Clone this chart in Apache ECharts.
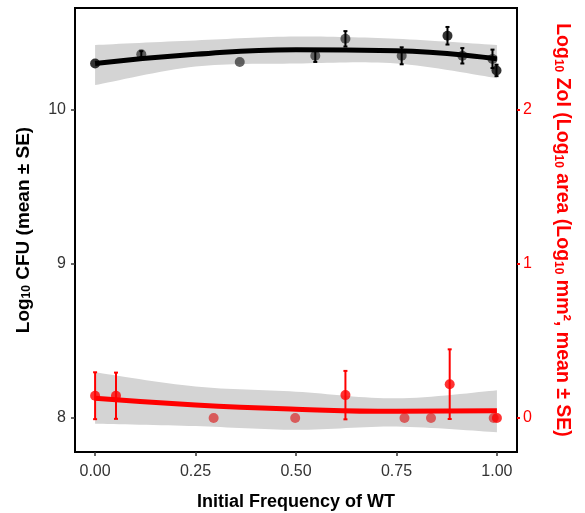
<!DOCTYPE html>
<html>
<head>
<meta charset="utf-8">
<script src="https://cdn.jsdelivr.net/npm/echarts@6/dist/echarts.min.js"></script>
<style>html,body{margin:0;padding:0;background:#fff;}#c{width:585px;height:513px;}</style>
</head>
<body>
<div id="c"></div>
<script>
// ---- tick labels ----
const xTicks = [0, 0.25, 0.5, 0.75, 1];
const cfuTicks = [8, 9, 10];
const zoiTicks = [0, 1, 2];

// ---- CFU (left axis) ----
const cfuX    = [0, 0.115, 0.36, 0.548, 0.623, 0.763, 0.877, 0.914, 0.989, 0.999];
const cfuMean = [10.30, 10.36, 10.31, 10.35, 10.46, 10.35, 10.48, 10.35, 10.33, 10.255];
const cfuSE   = [0, 0.02, 0, 0.04, 0.05, 0.055, 0.057, 0.05, 0.06, 0.037];

// ---- ZoI (right axis) ----
const zoiX    = [0, 0.052, 0.295, 0.498, 0.623, 0.77, 0.836, 0.8825, 0.992, 1.0];
const zoiMean = [0.145, 0.145, 0, 0, 0.149, 0, 0, 0.22, 0, 0];
const zoiSE   = [0.152, 0.15, 0, 0, 0.157, 0, 0, 0.226, 0, 0];

// ---- smooth fits with confidence band ----
const fitX     = [0, 0.25, 0.5, 0.75, 1.0];
const cfuFit   = [10.30, 10.36, 10.39, 10.383, 10.33];
const cfuUpper = [10.42, 10.45, 10.475, 10.46, 10.42];
const cfuLower = [10.16, 10.28, 10.30, 10.30, 10.205];
const zoiFit   = [0.128, 0.085, 0.058, 0.044, 0.047];
const zoiUpper = [0.297, 0.205, 0.171, 0.128, 0.18];
const zoiLower = [-0.036, -0.052, -0.076, -0.055, -0.092];

const FONT = '"Liberation Sans", Arial, sans-serif';
const chart = echarts.init(document.getElementById('c'), null, {renderer: 'canvas'});

function pairs(xs, ys) { return xs.map((x, i) => [x, ys[i]]); }

// Catmull-Rom through pixel points (rendering only)
function splinePts(P) {
  const out = [];
  const n = P.length;
  for (let i = 0; i < n - 1; i++) {
    const p0 = P[Math.max(i - 1, 0)], p1 = P[i], p2 = P[i + 1], p3 = P[Math.min(i + 2, n - 1)];
    const steps = 16;
    for (let s = 0; s < steps; s++) {
      const t = s / steps, t2 = t * t, t3 = t2 * t;
      const f = (a, b, c, d) => 0.5 * ((2 * b) + (-a + c) * t + (2 * a - 5 * b + 4 * c - d) * t2 + (-a + 3 * b - 3 * c + d) * t3);
      out.push([f(p0[0], p1[0], p2[0], p3[0]), f(p0[1], p1[1], p2[1], p3[1])]);
    }
  }
  out.push(P[n - 1]);
  return out;
}

function bandSeries(xs, up, lo, yIdx) {
  return {
    type: 'custom', yAxisIndex: yIdx, z: 1, silent: true,
    data: [[xs[0], up[0]]],
    renderItem: function (params, api) {
      const U = splinePts(xs.map((x, i) => api.coord([x, up[i]])));
      const L = splinePts(xs.map((x, i) => api.coord([x, lo[i]]))).reverse();
      return {type: 'polygon', shape: {points: U.concat(L)}, style: {fill: '#d4d4d4'}};
    }
  };
}

function errorBars(xs, m, se, yIdx, color) {
  return {
    type: 'custom', yAxisIndex: yIdx, z: 5,
    data: xs.map((x, i) => [x, m[i] - se[i], m[i] + se[i]]),
    renderItem: function (params, api) {
      const lo = api.coord([api.value(0), api.value(1)]);
      const hi = api.coord([api.value(0), api.value(2)]);
      if (Math.abs(lo[1] - hi[1]) < 1) return null;
      const st = {stroke: color, lineWidth: 2};
      const w = 2;
      return {type: 'group', children: [
        {type: 'line', shape: {x1: lo[0], y1: lo[1], x2: hi[0], y2: hi[1]}, style: st},
        {type: 'line', shape: {x1: lo[0] - w, y1: lo[1], x2: lo[0] + w, y2: lo[1]}, style: st},
        {type: 'line', shape: {x1: hi[0] - w, y1: hi[1], x2: hi[0] + w, y2: hi[1]}, style: st}
      ]};
    }
  };
}

const strongCfu = new Set([0, 6, 9]);
const strongZoi = new Set([0, 1, 4, 7, 9]);

const subStyle = {fontSize: 12, fontWeight: 'bold', lineHeight: 12, padding: [9, 0, 0, 0], verticalAlign: 'bottom', fontFamily: FONT};

const option = {
  animation: false,
  backgroundColor: '#fff',
  grid: {left: 75, top: 8, width: 442, height: 444, show: true, borderColor: '#000', borderWidth: 2, backgroundColor: 'transparent', containLabel: false, outerBoundsMode: 'none'},
  xAxis: {
    type: 'value', min: -0.05, max: 1.05,
    name: 'Initial Frequency of WT', nameLocation: 'middle', nameGap: 41,
    nameTextStyle: {fontSize: 18, fontWeight: 'bold', color: '#000', fontFamily: FONT},
    axisLine: {show: false, onZero: false},
    axisTick: {show: true, customValues: xTicks, length: 4, lineStyle: {color: '#333', width: 1.5}},
    axisLabel: {customValues: xTicks, formatter: v => v.toFixed(2), fontSize: 16, color: '#333', margin: 12, fontFamily: FONT},
    splitLine: {show: false}
  },
  yAxis: [
    {
      type: 'value', position: 'left', min: 7.78, max: 10.66,
      name: '{b|Log}{s|10}{b| CFU (mean ± SE)}', nameLocation: 'middle', nameGap: 42, nameRotate: 90,
      nameTextStyle: {color: '#000', fontFamily: FONT, rich: {b: {fontSize: 19, fontWeight: 'bold', color: '#000', fontFamily: FONT, verticalAlign: 'middle'}, s: Object.assign({color: '#000'}, subStyle)}},
      axisLine: {show: false, onZero: false},
      axisTick: {show: true, customValues: cfuTicks, length: 4, lineStyle: {color: '#333', width: 1.5}},
      axisLabel: {customValues: cfuTicks, fontSize: 16, color: '#333', margin: 9, fontFamily: FONT},
      splitLine: {show: false}
    },
    {
      type: 'value', position: 'right', min: -0.22, max: 2.66,
      name: '{b|Log}{s|10}{b| ZoI (Log}{s|10}{b| area (Log}{s|10}{b| mm², mean ± SE)}', nameLocation: 'middle', nameGap: 35, nameRotate: -90,
      nameTextStyle: {color: '#ff0000', fontFamily: FONT, rich: {b: {fontSize: 19.5, fontWeight: 'bold', color: '#ff0000', fontFamily: FONT, verticalAlign: 'middle'}, s: Object.assign({color: '#ff0000'}, subStyle)}},
      axisLine: {show: false, onZero: false},
      axisTick: {show: true, customValues: zoiTicks, length: 3, lineStyle: {color: '#ff0000', width: 2}},
      axisLabel: {customValues: zoiTicks, fontSize: 16, color: '#ff0000', margin: 6, fontFamily: FONT},
      splitLine: {show: false}
    }
  ],
  series: [
    bandSeries(fitX, cfuUpper, cfuLower, 0),
    bandSeries(fitX, zoiUpper, zoiLower, 1),
    {type: 'scatter', yAxisIndex: 0, symbolSize: 10, z: 3,
     data: cfuX.map((x, i) => ({value: [x, cfuMean[i]], itemStyle: {color: strongCfu.has(i) ? '#000' : '#3d3d3d'}}))},
    {type: 'scatter', yAxisIndex: 1, symbolSize: 10, z: 3,
     data: zoiX.map((x, i) => ({value: [x, zoiMean[i]], itemStyle: {color: strongZoi.has(i) ? '#ff0000' : '#d83c3c'}}))},
    {type: 'line', yAxisIndex: 0, smooth: true, symbol: 'none', data: pairs(fitX, cfuFit), lineStyle: {color: '#000', width: 5}, z: 4},
    {type: 'line', yAxisIndex: 1, smooth: true, symbol: 'none', data: pairs(fitX, zoiFit), lineStyle: {color: '#ff0000', width: 5}, z: 4},
    errorBars(cfuX, cfuMean, cfuSE, 0, '#000'),
    errorBars(zoiX, zoiMean, zoiSE, 1, '#ff0000')
  ]
};
chart.setOption(option);
</script>
</body>
</html>
